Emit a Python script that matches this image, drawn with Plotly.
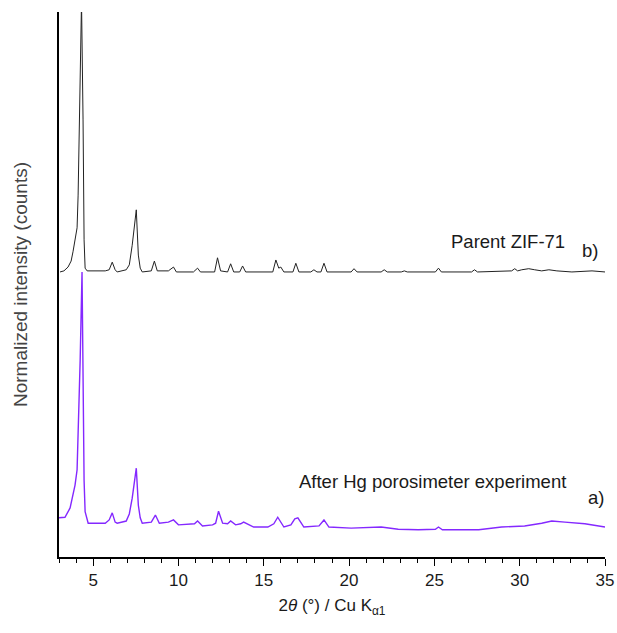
import plotly.graph_objects as go

# Pattern b) Parent ZIF-71 (2theta, normalized intensity incl. stacking offset)
b_x = [3.06, 3.29, 3.53, 3.71, 3.82, 3.94, 4.06, 4.12, 4.24, 4.32, 4.41, 4.47, 4.53, 4.65,
       5.71, 5.94, 6.12, 6.29, 6.41, 6.94, 7.12, 7.29, 7.53, 7.65, 7.76, 7.88,
       8.41, 8.59, 8.76, 9.41, 9.71, 9.88, 10.88, 11.12, 11.29, 12.12, 12.29, 12.47,
       12.88, 13.06, 13.24, 13.59, 13.76, 13.94, 15.53, 15.71, 15.88, 16.0, 16.18,
       16.71, 16.88, 17.06, 17.76, 17.94, 18.12, 18.35, 18.53, 18.71, 20.12, 20.29, 20.47,
       21.88, 22.06, 22.24, 23.06, 23.24, 23.41, 25.06, 25.24, 25.41, 27.18, 27.35, 27.53,
       29.53, 29.71, 29.88, 30.12, 30.53, 30.88, 31.29, 31.71, 32.18, 33.06, 34.24, 35.0]
b_y = [0.523, 0.525, 0.532, 0.543, 0.560, 0.582, 0.604, 0.664, 0.839, 1.02, 0.802, 0.582, 0.530, 0.525,
       0.525, 0.527, 0.541, 0.527, 0.523, 0.527, 0.536, 0.572, 0.637, 0.554, 0.530, 0.523,
       0.525, 0.543, 0.525, 0.525, 0.532, 0.523, 0.523, 0.530, 0.523, 0.523, 0.549, 0.525,
       0.523, 0.538, 0.523, 0.523, 0.534, 0.523, 0.523, 0.545, 0.530, 0.532, 0.523,
       0.523, 0.539, 0.523, 0.523, 0.527, 0.523, 0.523, 0.539, 0.523, 0.523, 0.529, 0.523,
       0.523, 0.527, 0.523, 0.523, 0.525, 0.523, 0.523, 0.530, 0.523, 0.523, 0.527, 0.523,
       0.525, 0.529, 0.525, 0.527, 0.529, 0.527, 0.525, 0.527, 0.525, 0.523, 0.525, 0.523]

# Pattern a) After Hg porosimeter experiment
a_x = [3.0, 3.35, 3.65, 3.82, 3.94, 4.06, 4.12, 4.24, 4.35, 4.41, 4.47, 4.53, 4.71,
       5.71, 5.94, 6.12, 6.29, 6.41, 6.94, 7.12, 7.29, 7.53, 7.65, 7.76, 7.88,
       8.41, 8.65, 8.88, 9.41, 9.71, 10.0, 10.94, 11.12, 11.41, 12.0, 12.18, 12.35, 12.59,
       12.88, 13.06, 13.35, 13.65, 13.82, 14.41, 15.24, 15.59, 15.82, 16.18, 16.59, 16.82,
       17.0, 17.35, 18.24, 18.53, 18.82, 20.12, 21.88, 22.88, 24.06, 25.06, 25.24, 25.47,
       26.0, 27.6, 28.94, 30.29, 31.29, 31.88, 32.65, 33.82, 35.0]
a_y = [0.072, 0.073, 0.090, 0.114, 0.132, 0.160, 0.215, 0.361, 0.523, 0.325, 0.141, 0.083, 0.062,
       0.062, 0.068, 0.081, 0.064, 0.062, 0.066, 0.079, 0.108, 0.163, 0.095, 0.072, 0.062,
       0.064, 0.077, 0.062, 0.064, 0.068, 0.059, 0.061, 0.066, 0.057, 0.059, 0.062, 0.084, 0.062,
       0.061, 0.066, 0.059, 0.061, 0.064, 0.055, 0.055, 0.061, 0.073, 0.055, 0.059, 0.070,
       0.072, 0.055, 0.057, 0.068, 0.055, 0.053, 0.055, 0.051, 0.050, 0.051, 0.055, 0.050,
       0.050, 0.050, 0.055, 0.057, 0.062, 0.066, 0.064, 0.061, 0.055]

x_ticks = [5, 10, 15, 20, 25, 30, 35]

FONT = "Liberation Sans, Arial, sans-serif"
TXT = "#1a1a1a"

fig = go.Figure()
fig.add_trace(go.Scatter(x=b_x, y=b_y, mode="lines",
                         line=dict(color="#222222", width=1), showlegend=False))
fig.add_trace(go.Scatter(x=a_x, y=a_y, mode="lines",
                         line=dict(color="#8428ff", width=1.4), showlegend=False))

fig.add_annotation(x=32.75, y=0.578, xref="x", yref="y", text="Parent ZIF-71",
                   showarrow=False, xanchor="right", yanchor="middle",
                   font=dict(family=FONT, size=18.5, color=TXT))
fig.add_annotation(x=33.55, y=0.563, xref="x", yref="y", text="b)",
                   showarrow=False, xanchor="left", yanchor="middle",
                   font=dict(family=FONT, size=18.5, color=TXT))
fig.add_annotation(x=32.85, y=0.138, xref="x", yref="y", text="After Hg porosimeter experiment",
                   showarrow=False, xanchor="right", yanchor="middle",
                   font=dict(family=FONT, size=18.5, color=TXT))
fig.add_annotation(x=33.9, y=0.110, xref="x", yref="y", text="a)",
                   showarrow=False, xanchor="left", yanchor="middle",
                   font=dict(family=FONT, size=18.5, color=TXT))

fig.update_layout(
    width=617, height=633,
    margin=dict(l=59, r=12, t=12, b=76),
    paper_bgcolor="white", plot_bgcolor="white",
    font=dict(family=FONT, size=16, color=TXT),
    xaxis=dict(range=[3, 35], tickvals=x_ticks, ticks="outside", ticklen=7, tickwidth=1.3,
               tickcolor="black", showline=True, linecolor="black", linewidth=1.5,
               showgrid=False, zeroline=False, automargin=False,
               tickfont=dict(family=FONT, size=17, color=TXT),
               minor=dict(dtick=1, tick0=0, ticks="outside", ticklen=4, tickwidth=1,
                          tickcolor="black", showgrid=False),
               title=dict(text="2<i>θ</i> (°) / Cu K<sub>α1</sub>", standoff=10,
                          font=dict(family=FONT, size=17, color=TXT))),
    yaxis=dict(range=[0, 1.0], showticklabels=False, ticks="", showline=True,
               linecolor="black", linewidth=1.5, showgrid=False, zeroline=False,
               automargin=False,
               title=dict(text="Normalized intensity (counts)", standoff=25,
                          font=dict(family=FONT, size=19, color="#444444"))),
)

fig.write_html("out.html")
